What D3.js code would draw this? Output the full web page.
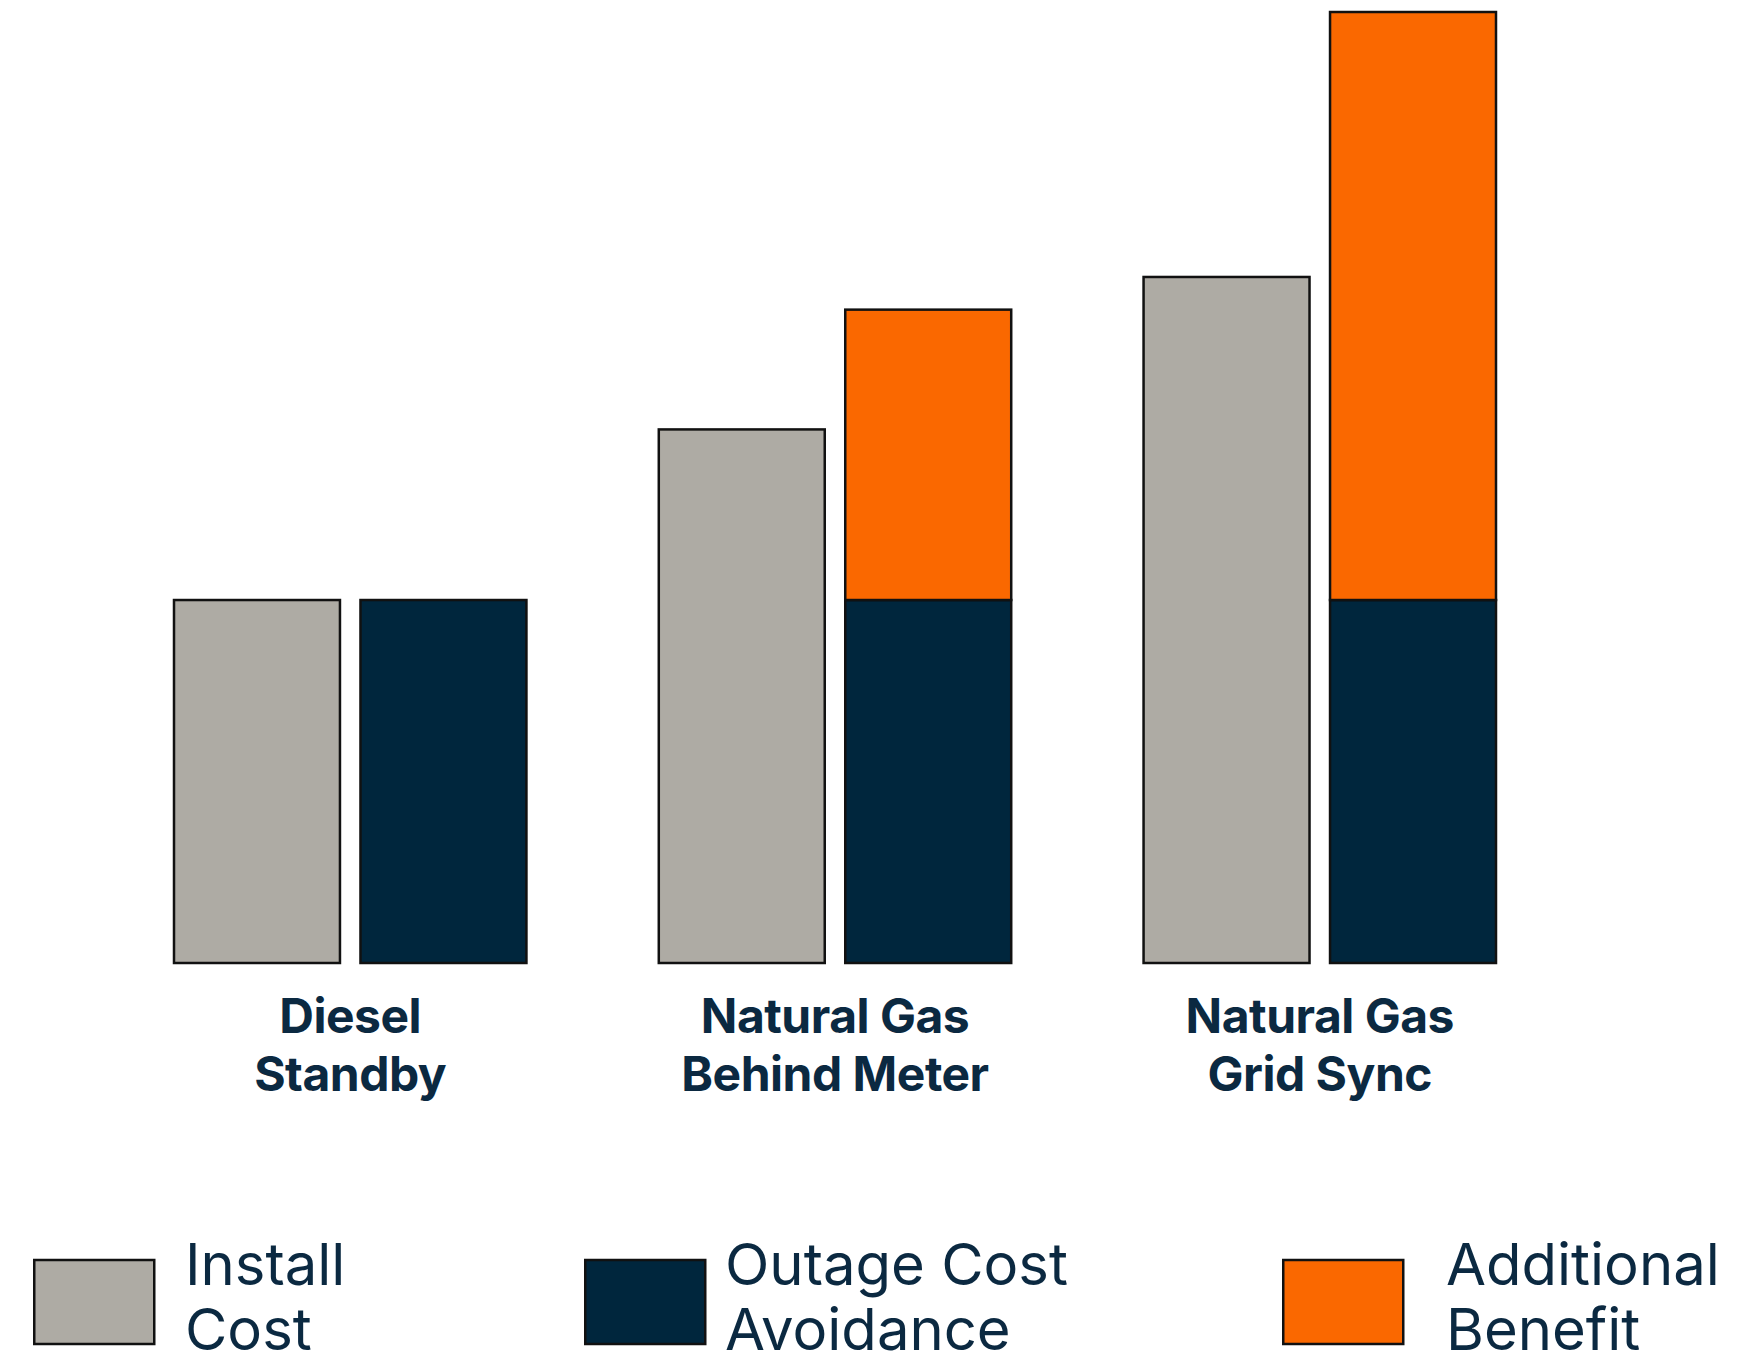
<!DOCTYPE html>
<html>
<head>
<meta charset="utf-8">
<script src="https://cdn.jsdelivr.net/npm/d3@7"></script>
<style>
  html, body { margin: 0; padding: 0; background: #ffffff; }
  svg { display: block; }
</style>
</head>
<body>
<svg id="chart" width="1759" height="1355"></svg>
<script>
// Generator options compared (relative units, outage cost avoidance = 100)
const categories = ["Diesel Standby", "Natural Gas Behind Meter", "Natural Gas Grid Sync"];
const categoryLines = [["Diesel", "Standby"], ["Natural Gas", "Behind Meter"], ["Natural Gas", "Grid Sync"]];
const installCost = [100, 147, 189];
const outageAvoidance = [100, 100, 100];
const additionalBenefit = [0, 80, 162];
const legendLabels = [["Install", "Cost"], ["Outage Cost", "Avoidance"], ["Additional", "Benefit"]];

// Styling
const colors = { install: "#aeaba4", outage: "#00263d", additional: "#fa6800", text: "#0b2941", stroke: "#111111" };
const baseY = 963, topY = 12;

const svg = d3.select("#chart");

const y = d3.scaleLinear()
  .domain([0, d3.max(categories, (c, i) => outageAvoidance[i] + additionalBenefit[i])])
  .range([baseY, topY]);

const x0 = d3.scaleBand()
  .domain(categories)
  .range([174, 1496])
  .paddingInner(0.273)
  .paddingOuter(0);

const x1 = d3.scaleBand()
  .domain(["install", "stack"])
  .range([0, x0.bandwidth()])
  .paddingInner(0.11)
  .paddingOuter(0);

const rows = categories.map((c, i) => ({
  category: c,
  install: installCost[i],
  outage: outageAvoidance[i],
  additional: additionalBenefit[i]
}));

// Stacked series: outage avoidance at the bottom, additional benefit on top
const stacked = d3.stack().keys(["outage", "additional"])(rows);

const bars = svg.append("g").attr("class", "bars");

// Install cost bars
bars.selectAll("rect.install")
  .data(rows)
  .join("rect")
  .attr("class", "install")
  .attr("x", d => x0(d.category) + x1("install"))
  .attr("y", d => y(d.install))
  .attr("width", x1.bandwidth())
  .attr("height", d => y(0) - y(d.install))
  .attr("fill", colors.install)
  .attr("stroke", colors.stroke)
  .attr("stroke-width", 2.5);

// Stacked benefit bars
stacked.forEach(series => {
  bars.selectAll("rect." + series.key)
    .data(series.filter(d => d[1] - d[0] > 0))
    .join("rect")
    .attr("class", series.key)
    .attr("x", d => x0(d.data.category) + x1("stack"))
    .attr("y", d => y(d[1]))
    .attr("width", x1.bandwidth())
    .attr("height", d => y(d[0]) - y(d[1]))
    .attr("fill", colors[series.key])
    .attr("stroke", colors.stroke)
    .attr("stroke-width", 2.5);
});

// Category labels under each group
const labels = svg.append("g").attr("class", "category-labels");
categories.forEach((c, i) => {
  const cx = x0(c) + x0.bandwidth() / 2;
  const t = labels.append("text")
    .attr("x", cx)
    .attr("y", 1033)
    .attr("text-anchor", "middle")
    .attr("fill", colors.text)
    .style("font-family", "Inter, 'Noto Sans', sans-serif")
    .style("font-weight", 700)
    .style("font-size", "48px")
    .style("letter-spacing", "-0.5px");
  categoryLines[i].forEach((line, j) => {
    t.append("tspan")
      .attr("x", cx)
      .attr("dy", j === 0 ? 0 : 58)
      .text(line);
  });
});

// Legend
const legendKeys = ["install", "outage", "additional"];
const legendBoxX = [33, 584, 1282];
const legendTextX = [185, 725, 1446];
const legend = svg.append("g").attr("class", "legend");
legendKeys.forEach((k, i) => {
  legend.append("rect")
    .attr("x", legendBoxX[i] + 1.25)
    .attr("y", 1260)
    .attr("width", 120)
    .attr("height", 84)
    .attr("fill", colors[k])
    .attr("stroke", colors.stroke)
    .attr("stroke-width", 2.5);
  const t = legend.append("text")
    .attr("x", legendTextX[i])
    .attr("y", 1285)
    .attr("fill", colors.text)
    .style("font-family", "Inter, 'Noto Sans', sans-serif")
    .style("font-weight", 400)
    .style("font-size", "58px");
  legendLabels[i].forEach((line, j) => {
    t.append("tspan")
      .attr("x", legendTextX[i])
      .attr("dy", j === 0 ? 0 : 65)
      .text(line);
  });
});
</script>
</body>
</html>
